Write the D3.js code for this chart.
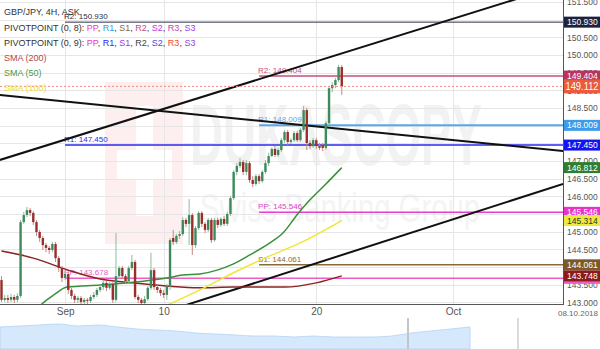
<!DOCTYPE html>
<html>
<head>
<meta charset="utf-8">
<script src="https://cdn.jsdelivr.net/npm/d3@7"></script>
<style>
  html, body { margin: 0; padding: 0; background: #fff; }
  svg { display: block; font-family: "Liberation Sans", Arial, sans-serif; }
</style>
</head>
<body>
<svg id="chart"></svg>
<script>
// 4H candles, GBP/JPY ASK
const candleOpen = [143.63,143.07,143.12,143.07,143.15,143.07,143.18,145.27,145.47,145.61,
  145.53,145.27,144.99,144.82,144.62,144.54,144.48,144.65,144.25,143.97,
  143.69,143.80,143.35,143.18,143.07,143.12,143.01,143.07,143.04,143.15,
  143.21,143.35,143.43,143.55,143.41,143.52,143.07,143.74,143.97,143.74,
  143.60,143.97,144.14,143.15,143.07,142.98,143.09,143.41,143.91,143.43,
  143.35,143.26,143.21,143.46,144.82,144.71,144.88,144.93,145.33,145.22,
  145.47,144.62,145.10,145.53,145.22,145.05,145.33,144.76,145.33,145.19,
  145.36,145.22,145.50,145.95,146.69,146.86,146.97,146.69,146.94,146.46,
  146.35,146.57,146.43,146.69,146.94,147.14,147.34,147.17,147.31,147.59,
  147.82,147.54,147.59,147.79,147.59,147.88,148.44,147.51,147.42,147.59,
  147.42,147.45,147.37,148.07,149.06,149.15,149.29,149.66];
const candleClose = [143.07,143.12,143.07,143.15,143.07,143.18,145.27,145.47,145.61,145.53,
  145.27,144.99,144.82,144.62,144.54,144.48,144.65,144.25,143.97,143.69,
  143.80,143.35,143.18,143.07,143.12,143.01,143.07,143.04,143.15,143.21,
  143.35,143.43,143.55,143.41,143.52,143.07,143.74,143.97,143.74,143.60,
  143.97,144.14,143.15,143.07,142.98,143.09,143.41,143.91,143.43,143.35,
  143.26,143.21,143.46,144.76,144.71,144.88,144.93,145.33,145.22,145.47,
  144.62,145.10,145.53,145.22,145.05,145.33,144.76,145.33,145.19,145.36,
  145.22,145.50,145.95,146.69,146.86,146.97,146.69,146.94,146.46,146.35,
  146.57,146.43,146.69,146.94,147.14,147.34,147.17,147.31,147.59,147.82,
  147.54,147.59,147.79,147.59,147.88,148.44,147.51,147.42,147.59,147.42,
  147.37,147.37,148.07,149.06,149.15,149.29,149.66,149.11];
const candleHigh = [143.74,143.21,143.21,143.24,143.21,143.26,145.33,145.56,145.70,145.67,
  145.58,145.33,145.05,144.88,144.68,144.59,144.71,144.71,144.31,144.03,
  143.89,143.86,143.41,143.24,143.18,143.18,143.12,143.12,143.21,143.29,
  143.41,143.49,143.63,143.60,143.57,143.57,144.96,144.03,144.03,143.80,
  144.03,144.34,144.20,143.21,143.12,143.18,143.46,144.40,143.97,143.49,
  143.41,143.35,143.52,144.82,145.05,144.93,145.02,145.41,145.39,145.92,
  145.53,145.16,145.58,145.58,145.27,145.39,145.39,145.39,145.39,145.41,
  145.44,145.56,146.01,146.74,146.94,147.08,147.03,147.03,147.00,146.57,
  146.63,146.63,146.74,147.03,147.23,147.39,147.42,147.37,147.65,147.88,
  147.88,147.65,147.85,147.85,147.93,148.56,148.50,147.59,147.65,147.65,
  147.51,147.51,148.13,149.12,149.23,149.35,149.72,149.72];
const candleLow = [143.01,143.01,142.98,143.01,142.98,143.01,143.12,145.22,145.41,145.44,
  145.19,144.88,144.71,144.48,144.42,144.37,144.42,144.14,143.86,143.57,
  143.63,143.24,143.09,142.98,142.98,142.95,142.95,142.95,142.98,143.09,
  143.15,143.29,143.35,143.32,143.35,142.98,143.01,143.66,143.66,143.52,
  143.55,143.91,143.09,142.98,142.90,142.92,143.04,143.35,143.35,143.26,
  143.18,143.12,143.07,143.35,144.62,144.65,144.79,144.88,145.13,144.62,
  144.34,144.54,145.05,145.13,144.96,144.99,144.68,144.71,145.10,145.13,
  145.16,145.16,145.44,145.90,146.60,146.80,146.60,146.60,146.38,146.26,
  146.29,146.35,146.38,146.63,146.86,147.11,147.11,147.11,147.25,147.51,
  147.45,147.48,147.54,147.54,147.54,147.82,147.31,147.34,147.37,147.34,
  147.31,147.28,147.31,148.02,148.95,149.06,149.23,148.87];

// moving averages, [bar index, price]
const sma200 = [[0,144.45],[10,144.25],[21,143.91],[31,143.66],[41,143.55],[52,143.46],
  [62,143.41],[73,143.43],[89,143.43],[99,143.55],[107,143.748]];
const sma50 = [[10.5,142.72],[12.7,142.95],[16.8,143.23],[20.6,143.43],[31,143.49],[41.4,143.57],
  [52,143.69],[57,143.77],[62.4,143.80],[67.8,143.91],[72.8,144.08],[78.1,144.34],[84.4,144.68],
  [88.5,144.96],[92.9,145.47],[97,145.90],[101.7,146.32],[107,146.812]];
const sma100 = [[51.4,142.89],[62.4,143.35],[72.8,143.83],[83.5,144.28],[93.9,144.68],[107,145.314]];

// trend lines, [bar index, price]
const trendLines = [
  [[-0.5,147.03],[170,151.81]],
  [[-0.5,148.87],[176.6,147.28]],
  [[50,142.69],[176.6,146.35]]
];

// pivot levels: start bar, name, value, colour
const pivotStart = [20, 20, 20, 81, 81, 81, 81];
const pivotName = ["R2", "R1", "PP", "R2", "R1", "PP", "S1"];
const pivotValue = [150.930, 147.450, 143.678, 149.404, 148.009, 145.546, 144.061];
const pivotColor = ["#2b2e4a", "#2a2aee", "#ee5cc4", "#c0507a", "#5aa8ea", "#e040cc", "#8b6a3a"];
const pivotWidth = [1, 1.5, 1.5, 1.5, 2, 1.5, 1.5];

// price boxes on the right axis
const boxValue = [150.930, 149.404, 148.009, 147.450, 146.812, 145.546, 145.314, 144.061, 143.678, 143.748, 149.112];
const boxColor = ["#1d2140", "#b83262", "#3d9be9", "#1414ee", "#2e7d32", "#e535c8", "#eeea3a", "#7a5a28", "#ee5cc4", "#8b1a1a", "#ea5a3c"];
const boxText = ["#fff", "#fff", "#fff", "#fff", "#fff", "#fff", "#333", "#fff", "#fff", "#fff", "#fff"];

const lastPrice = 149.112;

const xTickIdx = [20, 51, 99, 142];
const xTickLabels = ["Sep", "10", "20", "Oct"];
const yTicks = d3.range(143, 151.51, 0.5);

// navigator history
const navValues = [147.10,147.42,147.74,148.06,147.42,147.74,147.10,146.45,146.13,145.81,
  145.16,144.84,144.52,144.19,144.19,143.87,144.19,143.87,143.87,143.87,
  144.19,145.16,145.81,146.45,147.10];

const W = 600, H = 349, plotW = 563, plotH = 304;
const svg = d3.select("#chart").attr("width", W).attr("height", H);

const x = d3.scaleLinear().domain([0, 177]).range([1.5, 1.5 + 177 * 3.18]);
const y = d3.scaleLinear().domain([143, 151.5]).range([302.3, 2]);

svg.append("defs").append("clipPath").attr("id", "plot")
  .append("rect").attr("width", plotW).attr("height", plotH);

// watermark
const wm = svg.append("g");
wm.append("rect").attr("x", 105).attr("y", 82).attr("width", 78).attr("height", 162).attr("fill", "#fdefef");
wm.append("rect").attr("x", 136).attr("y", 106).attr("width", 17).attr("height", 110).attr("fill", "#fff");
wm.append("rect").attr("x", 117).attr("y", 150).attr("width", 55).attr("height", 30).attr("fill", "#fff");
wm.append("text").attr("x", 190).attr("y", 165).attr("font-size", 88).attr("font-weight", "bold")
  .attr("textLength", 292).attr("lengthAdjust", "spacingAndGlyphs")
  .attr("fill", "#f2f2f2").text("DUKASCOPY");
wm.append("text").attr("x", 200).attr("y", 222).attr("font-size", 40)
  .attr("textLength", 280).attr("lengthAdjust", "spacingAndGlyphs")
  .attr("fill", "#f4f4f4").text("Swiss Banking Group");

// grid
const grid = svg.append("g").attr("stroke", "#e6e6e6").attr("stroke-width", 1);
grid.selectAll("line.h").data(yTicks).enter().append("line")
  .attr("x1", 0).attr("x2", plotW)
  .attr("y1", d => Math.round(y(d)) + 0.5).attr("y2", d => Math.round(y(d)) + 0.5);
grid.selectAll("line.v").data(xTickIdx).enter().append("line")
  .attr("y1", 0).attr("y2", plotH)
  .attr("x1", d => Math.round(x(d)) + 0.5).attr("x2", d => Math.round(x(d)) + 0.5);

const plot = svg.append("g").attr("clip-path", "url(#plot)");

// pivot lines and labels
pivotValue.forEach((v, i) => {
  const yy = y(v);
  plot.append("line").attr("x1", x(pivotStart[i])).attr("x2", plotW)
    .attr("y1", yy).attr("y2", yy)
    .attr("stroke", pivotColor[i]).attr("stroke-width", pivotWidth[i]);
  plot.append("text").attr("x", x(pivotStart[i]) - 1).attr("y", yy - 3)
    .attr("font-size", 8).attr("fill", pivotColor[i])
    .text(pivotName[i] + ": " + v.toFixed(3));
});

// trend lines
trendLines.forEach(t => {
  plot.append("line")
    .attr("x1", x(t[0][0])).attr("y1", y(t[0][1]))
    .attr("x2", x(t[1][0])).attr("y2", y(t[1][1]))
    .attr("stroke", "#111").attr("stroke-width", 2);
});

// moving averages
const smaLine = d3.line().x(d => x(d[0])).y(d => y(d[1])).curve(d3.curveMonotoneX);
[[sma200, "#8b2222"], [sma100, "#f0e634"], [sma50, "#3a8f3a"]].forEach(s => {
  plot.append("path").datum(s[0]).attr("d", smaLine)
    .attr("fill", "none").attr("stroke", s[1]).attr("stroke-width", 1.5);
});

// candles
const candles = plot.append("g").selectAll("g")
  .data(candleClose.map((c, i) => ({ i, o: candleOpen[i], h: candleHigh[i], l: candleLow[i], c })))
  .enter().append("g");
candles.append("line")
  .attr("x1", d => x(d.i)).attr("x2", d => x(d.i))
  .attr("y1", d => y(d.h)).attr("y2", d => y(d.l))
  .attr("stroke", d => d.c >= d.o ? "#8dbc9c" : "#c08a84").attr("stroke-width", 1);
candles.append("rect")
  .attr("x", d => x(d.i) - 1.2).attr("width", 2.4)
  .attr("y", d => y(Math.max(d.o, d.c)))
  .attr("height", d => Math.max(1, Math.abs(y(d.o) - y(d.c))))
  .attr("fill", d => d.c >= d.o ? "#3f8a5c" : "#9a2e2a");

// last price dotted line
svg.append("line").attr("x1", 0).attr("x2", plotW)
  .attr("y1", y(lastPrice)).attr("y2", y(lastPrice))
  .attr("stroke", "#f08a78").attr("stroke-width", 1).attr("stroke-dasharray", "2,2");

// axes
const yAxis = svg.append("g").attr("transform", `translate(${plotW},0)`)
  .call(d3.axisRight(y).tickValues(yTicks).tickFormat(d3.format(".3f")).tickSize(0).tickPadding(4));
yAxis.select(".domain").attr("stroke", "#555").attr("d", `M0.5,0V${plotH}`);
yAxis.selectAll("text").attr("font-size", 8.5).attr("fill", "#555").attr("font-family", null);

const xAxis = svg.append("g").attr("transform", `translate(0,${plotH})`)
  .call(d3.axisBottom(x).tickValues(xTickIdx).tickFormat((d, i) => xTickLabels[i]).tickSize(0).tickPadding(4));
xAxis.select(".domain").attr("stroke", "#555").attr("d", `M0,0.5H${plotW + 1}`);
xAxis.selectAll("text").attr("font-size", 10).attr("fill", "#555").attr("font-family", null);

svg.append("text").attr("x", 598).attr("y", 316).attr("text-anchor", "end")
  .attr("font-size", 8).attr("fill", "#666").text("08.10.2018");

// right axis price boxes
const isLast = v => v === lastPrice;
const boxes = svg.append("g").selectAll("g").data(boxValue).enter().append("g")
  .attr("transform", d => `translate(${plotW + 1},${y(d)})`);
boxes.append("rect")
  .attr("x", 0).attr("width", 36)
  .attr("y", d => isLast(d) ? -7 : -5.5)
  .attr("height", d => isLast(d) ? 14 : 11)
  .attr("fill", (d, i) => boxColor[i]);
boxes.append("text")
  .attr("x", d => isLast(d) ? 1.5 : 3).attr("dy", "0.35em")
  .attr("font-size", d => isLast(d) ? 10 : 8.5)
  .attr("textLength", d => isLast(d) ? 33 : null)
  .attr("lengthAdjust", "spacingAndGlyphs")
  .attr("fill", (d, i) => boxText[i])
  .text(d => d.toFixed(3));

// legend
const legend = svg.append("g").attr("font-size", 9);
legend.append("text").attr("x", 4).attr("y", 15).attr("fill", "#333").text("GBP/JPY, 4H, ASK");
function pivotLegend(yPos, label, names, colors) {
  const t = legend.append("text").attr("x", 4).attr("y", yPos).attr("fill", "#333");
  t.append("tspan").text(label);
  names.forEach((n, i) => {
    t.append("tspan").attr("fill", colors[i]).text(n);
    if (i < names.length - 1) t.append("tspan").text(", ");
  });
}
const pivotNames = ["PP", "R1", "S1", "R2", "S2", "R3", "S3"];
pivotLegend(30.5, "PIVOTPOINT (0, 8): ", pivotNames,
  ["#e838c8", "#3a9ae8", "#8b6a3a", "#c0507a", "#c040e0", "#c040c0", "#a040f0"]);
pivotLegend(45.5, "PIVOTPOINT (0, 9): ", pivotNames,
  ["#e838c8", "#2a2aee", "#9a40e0", "#444", "#3a50e0", "#f04a30", "#9a40e0"]);
legend.append("text").attr("x", 4).attr("y", 60.5).attr("fill", "#b04848").text("SMA (200)");
legend.append("text").attr("x", 4).attr("y", 75.5).attr("fill", "#4a9a4a").text("SMA (50)");
legend.append("text").attr("x", 4).attr("y", 90.5).attr("fill", "#e8e040").text("SMA (100)");

// navigator
const nx = d3.scaleLinear().domain([0, navValues.length - 1]).range([0, 470]);
const ny = d3.scaleLinear().domain([140, 150]).range([349, 318]);
svg.append("path").datum(navValues)
  .attr("d", d3.area().x((d, i) => nx(i)).y0(H).y1(d => ny(d)).curve(d3.curveMonotoneX))
  .attr("fill", "#d6e8fb").attr("stroke", "#b4d3f3").attr("stroke-width", 0.8);
svg.append("line").attr("x1", 408).attr("x2", 408).attr("y1", 318).attr("y2", H)
  .attr("stroke", "#c4c4c4").attr("stroke-width", 2);
svg.append("line").attr("x1", 518).attr("x2", 518).attr("y1", 318).attr("y2", H)
  .attr("stroke", "#cfcfcf").attr("stroke-width", 1.5);
</script>
</body>
</html>
